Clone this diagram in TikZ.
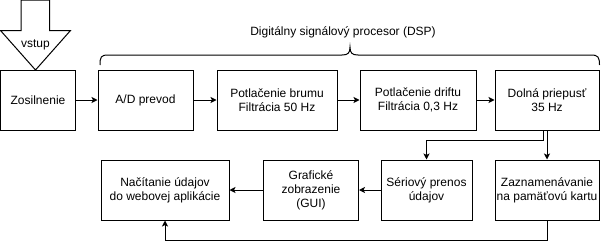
\documentclass[tikz,border=0pt]{standalone}
\usepackage{fontspec}
\setmainfont{Liberation Sans}
\usetikzlibrary{arrows.meta,positioning}

\begin{document}
\begin{tikzpicture}[x=1pt, y=-1pt, line width=1pt, >={Stealth[length=6pt,width=6pt,inset=1.5pt]}]
\tikzstyle{every node} = [font=\fontsize{12}{14}\selectfont, align=center, inner sep=0pt]
\tikzstyle{block} = [rectangle, draw=black, minimum height=60pt]
\useasboundingbox (0,0) rectangle (601,249);
% input arrow
\draw (21,0) -- (21,30.5) -- (0.5,30.5) -- (35.5,70) -- (70.5,30.5) -- (49.5,30.5) -- (49.5,0) -- cycle;
\node (vstup) at (35.5,45) {vstup};
% top row
\node[block, minimum width=75pt] (zos) at (38,100) {Zosilnenie};
\node[block, minimum width=95pt] (ad) at (145.5,100) {A/D prevod};
\node[block, minimum width=120pt] (brum) at (277,100) {Potlačenie brumu\\Filtrácia 50 Hz};
\node[block, minimum width=116pt] (drift) at (418,100) {Potlačenie driftu\\Filtrácia 0,3 Hz};
\node[block, minimum width=104pt] (dolna) at (547,100) {Dolná priepusť\\35 Hz};
% bottom row
\node[block, minimum width=128pt] (nac) at (165,190) {Načítanie údajov\\do webovej aplikácie};
\node[block, minimum width=95pt] (graf) at (311,190) {Grafické\\zobrazenie\\(GUI)};
\node[block, minimum width=91pt] (ser) at (426.5,190) {Sériový prenos\\údajov};
\node[block, minimum width=104pt] (zaz) at (547,190) {Zaznamenávanie\\na pamäťovú kartu};
% DSP brace
\draw (100,65) .. controls (100,57) and (101,55) .. (108,55) -- (342,55)
  .. controls (348,55) and (350,53) .. (350,47)
  .. controls (350,53) and (352,55) .. (358,55) -- (591,55)
  .. controls (598,55) and (599.5,57) .. (599.5,65);
\node (dsp) at (343,32) {Digitálny signálový procesor (DSP)};
% connections
\path[->] (zos) edge (ad)
(ad) edge (brum)
(brum) edge (drift)
(drift) edge (dolna)
(ser) edge (graf)
(graf) edge (nac);
\coordinate (split) at (543,140);
\coordinate (ret) at (547,240);
\draw[->] (dolna) -- (zaz);
\draw[->] (dolna.south -| split) -- (split) -| (ser);
\draw[->] (zaz) -- (ret) -| (nac);
\end{tikzpicture}
\end{document}
